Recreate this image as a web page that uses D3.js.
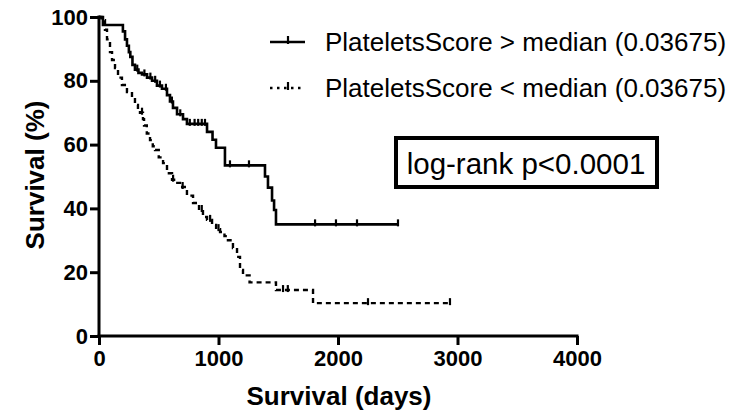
<!DOCTYPE html>
<html><head><meta charset="utf-8">
<script src="https://cdn.jsdelivr.net/npm/d3@7"></script>
<style>html,body{margin:0;padding:0;background:#fff;} svg{display:block;}</style>
</head><body>
<svg id="chart" width="729" height="416"></svg>
<script>
// ---- data ----
const xTicks = [0, 1000, 2000, 3000, 4000];
const yTicks = [0, 20, 40, 60, 80, 100];
const seriesNames = ["PlateletsScore > median (0.03675)", "PlateletsScore < median (0.03675)"];
const pText = "log-rank p<0.0001";
const xTitle = "Survival (days)";
const yTitle = "Survival (%)";

const highTimes = [33, 200, 218, 234, 250, 262, 280, 301, 330, 360, 402, 444, 485, 527, 569, 594, 619, 653, 703, 736, 904, 950, 979, 1054, 1389, 1414, 1448, 1465, 1481];
const highSurv  = [97.5, 95.5, 93, 91, 89, 87.5, 85, 83.5, 82.5, 82, 81, 80, 78.5, 77.5, 75.5, 73.5, 71.5, 69.5, 68, 66.5, 64, 61.5, 59, 53.5, 50, 46.5, 42.5, 39.5, 35];
const highEnd = 2502;
const highCensor = [320, 380, 430, 470, 510, 560, 610, 680, 760, 800, 830, 860, 887, 1096, 1255, 1808, 1983, 2159, 2502];

const lowTimes = [20, 50, 67, 92, 109, 134, 159, 192, 234, 276, 301, 326, 343, 368, 377, 400, 427, 450, 469, 500, 536, 569, 611, 640, 678, 736, 787, 837, 870, 904, 946, 980, 1013, 1050, 1079, 1121, 1155, 1180, 1205, 1260, 1481, 1791];
const lowSurv  = [99, 96, 93, 89, 86.5, 84, 81, 78.7, 76.5, 74.6, 72.4, 71, 70, 68, 66, 63.5, 61.4, 59.5, 58.3, 56, 54.2, 51, 49, 48, 46.7, 44, 41.7, 39.5, 37.3, 36.4, 34.8, 33.5, 32.6, 31.3, 30, 27.6, 24.8, 20.7, 19, 16.8, 14.4, 10.3];
const lowEnd = 2937;
const lowCensor = [360, 620, 700, 860, 930, 1000, 1540, 1580, 2251, 2937];

// ---- chart ----
const FONT = "'Liberation Sans', Arial, Helvetica, sans-serif";
const svg = d3.select("#chart");
const x = d3.scaleLinear().domain([0, 4000]).range([99, 577]);
const y = d3.scaleLinear().domain([0, 100]).range([336, 17]);

function stepPoints(times, surv, end) {
  const pts = [[0, 100]];
  let s = 100;
  times.forEach((t, i) => { pts.push([t, s]); s = surv[i]; pts.push([t, s]); });
  pts.push([end, s]);
  return pts;
}
function survAt(times, surv, t) {
  let s = 100;
  for (let i = 0; i < times.length; i++) { if (times[i] <= t) s = surv[i]; }
  return s;
}
const line = d3.line().x(d => x(d[0])).y(d => y(d[1]));

const series = [
  {times: highTimes, surv: highSurv, end: highEnd, censor: highCensor, dash: null, w: 2.6},
  {times: lowTimes, surv: lowSurv, end: lowEnd, censor: lowCensor, dash: "5,4", w: 2.4}
];

series.forEach(s => {
  svg.append("path")
    .attr("d", line(stepPoints(s.times, s.surv, s.end)))
    .attr("fill", "none").attr("stroke", "#000")
    .attr("stroke-width", s.w)
    .attr("stroke-dasharray", s.dash);
  svg.append("g").selectAll("line").data(s.censor).join("line")
    .attr("x1", d => x(d)).attr("x2", d => x(d))
    .attr("y1", d => y(survAt(s.times, s.surv, d)) - 5)
    .attr("y2", d => y(survAt(s.times, s.surv, d)) + 2)
    .attr("stroke", "#000").attr("stroke-width", 2.2);
});

// axes
const yAxis = svg.append("g").attr("transform", `translate(${x(0)},0)`)
  .call(d3.axisLeft(y).tickValues(yTicks).tickSize(9).tickSizeOuter(0).tickPadding(2).tickFormat(d3.format("d")));
const xAxis = svg.append("g").attr("transform", `translate(0,${y(0)})`)
  .call(d3.axisBottom(x).tickValues(xTicks).tickSize(9).tickSizeOuter(0).tickPadding(5).tickFormat(d3.format("d")));
[yAxis, xAxis].forEach(a => {
  a.selectAll("path,line").attr("stroke", "#000").attr("stroke-width", 3);
  a.selectAll("text").attr("fill", "#000").style("font-family", FONT)
    .style("font-size", "22px").style("font-weight", "bold");
});
yAxis.select(".domain").attr("d", `M0,${y(0) + 1.5}V${y(100) - 1.5}`);
xAxis.select(".domain").attr("d", `M${x(0) - 1.5},0H${x(4000) + 1.5}`);

// titles
svg.append("text").attr("x", 339).attr("y", 405).attr("text-anchor", "middle")
  .style("font-family", FONT).style("font-size", "26px").style("font-weight", "bold").text(xTitle);
svg.append("text").attr("transform", "translate(44,175) rotate(-90)").attr("text-anchor", "middle")
  .style("font-family", FONT).style("font-size", "26px").style("font-weight", "bold").text(yTitle);

// legend
const legY = [42, 88];
series.forEach((s, i) => {
  const g = svg.append("g");
  g.append("line").attr("x1", 270).attr("x2", 305).attr("y1", legY[i]).attr("y2", legY[i])
    .attr("stroke", "#000").attr("stroke-width", s.w).attr("stroke-dasharray", s.dash ? "2.5,4.5" : null);
  g.append("line").attr("x1", 288).attr("x2", 288).attr("y1", legY[i] - 6).attr("y2", legY[i] + 2)
    .attr("stroke", "#000").attr("stroke-width", 2.2);
  g.append("text").attr("x", 325).attr("y", legY[i] + 9)
    .style("font-family", FONT).style("font-size", "26px").text(seriesNames[i]);
});

// p-value box
svg.append("rect").attr("x", 396).attr("y", 138).attr("width", 261).attr("height", 49)
  .attr("fill", "#fff").attr("stroke", "#000").attr("stroke-width", 4);
svg.append("text").attr("x", 526).attr("y", 174).attr("text-anchor", "middle")
  .style("font-family", FONT).style("font-size", "29.5px").text(pText);
</script>
</body></html>
